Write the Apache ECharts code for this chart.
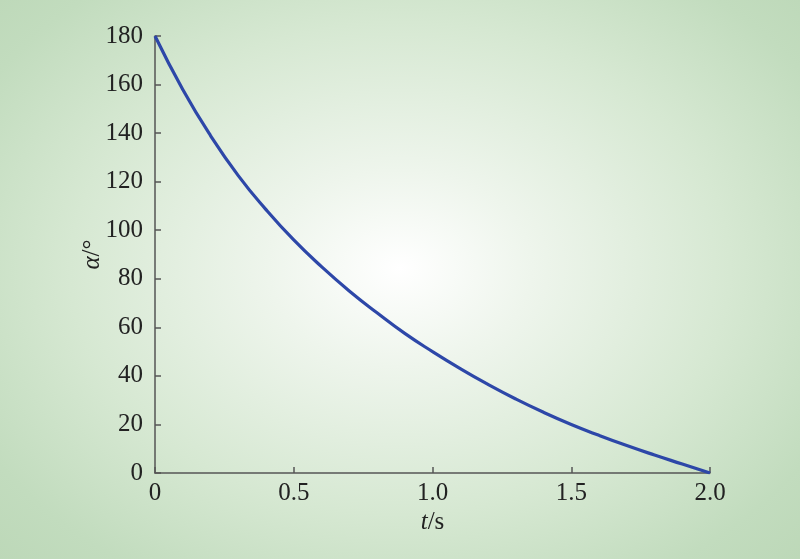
<!DOCTYPE html>
<html>
<head>
<meta charset="utf-8">
<script src="https://cdn.jsdelivr.net/npm/echarts@6/dist/echarts.min.js"></script>
<style>
html,body{margin:0;padding:0;}
#c{width:800px;height:559px;background:radial-gradient(ellipse 75% 80% at 50% 48%, #ffffff 0%, #eef5ec 22%, #d6e8d2 55%, #c2dcbe 80%, #bad6b5 100%);}
</style>
</head>
<body>
<div id="c"></div>
<script>
var tValues = [0, 0.1, 0.2, 0.3, 0.4, 0.5, 0.6, 0.7, 0.8, 0.9, 1.0, 1.1, 1.2, 1.3, 1.4, 1.5, 1.6, 1.7, 1.8, 1.9, 2.0];
var alphaValues = [180, 158, 139, 122.5, 108.5, 96, 85, 75, 66, 57.5, 50, 43, 36.5, 30.5, 25, 20, 15.5, 11.3, 7.4, 3.7, 0];
var xTicks = [0, 0.5, 1.0, 1.5, 2.0];
var yTicks = [0, 20, 40, 60, 80, 100, 120, 140, 160, 180];

var data = tValues.map(function(t, i){ return [t, alphaValues[i]]; });
var font = '"Liberation Serif", "Times New Roman", serif';
var chart = echarts.init(document.getElementById('c'), null, {renderer:'canvas'});
chart.setOption({
  animation: false,
  grid: {left: 155, right: 90, top: 36, bottom: 86},
  xAxis: {
    type: 'value', min: xTicks[0], max: xTicks[xTicks.length-1], interval: 0.5,
    name: '{i|t}/s', nameLocation: 'middle', nameGap: 37, nameMoveOverlap: false,
    nameTextStyle: {fontFamily: font, fontSize: 25, color: '#222',
      rich: {i: {fontFamily: font, fontSize: 25, fontStyle: 'italic', color: '#222'}}},
    axisLine: {show: true, lineStyle: {color: '#555', width: 1.5}},
    axisTick: {show: true, inside: true, length: 6, lineStyle: {color: '#555', width: 1.5}},
    splitLine: {show: false},
    axisLabel: {fontFamily: font, fontSize: 25, color: '#222', margin: 8,
      formatter: function(v){ return v === 0 ? '0' : v.toFixed(1); }}
  },
  yAxis: {
    type: 'value', min: yTicks[0], max: yTicks[yTicks.length-1], interval: 20,
    name: '{i|α}/°', nameLocation: 'middle', nameGap: 50, nameRotate: 90, nameMoveOverlap: false,
    nameTextStyle: {fontFamily: font, fontSize: 25, color: '#222',
      rich: {i: {fontFamily: font, fontSize: 25, fontStyle: 'italic', color: '#222'}}},
    axisLine: {show: true, lineStyle: {color: '#555', width: 1.5}},
    axisTick: {show: true, inside: true, length: 6, lineStyle: {color: '#555', width: 1.5}},
    splitLine: {show: false},
    axisLabel: {fontFamily: font, fontSize: 25, color: '#222', margin: 12}
  },
  series: [{
    type: 'line', data: data, smooth: true, showSymbol: false, symbol: 'none',
    lineStyle: {color: '#2d47a8', width: 3.2}
  }]
});
</script>
</body>
</html>
